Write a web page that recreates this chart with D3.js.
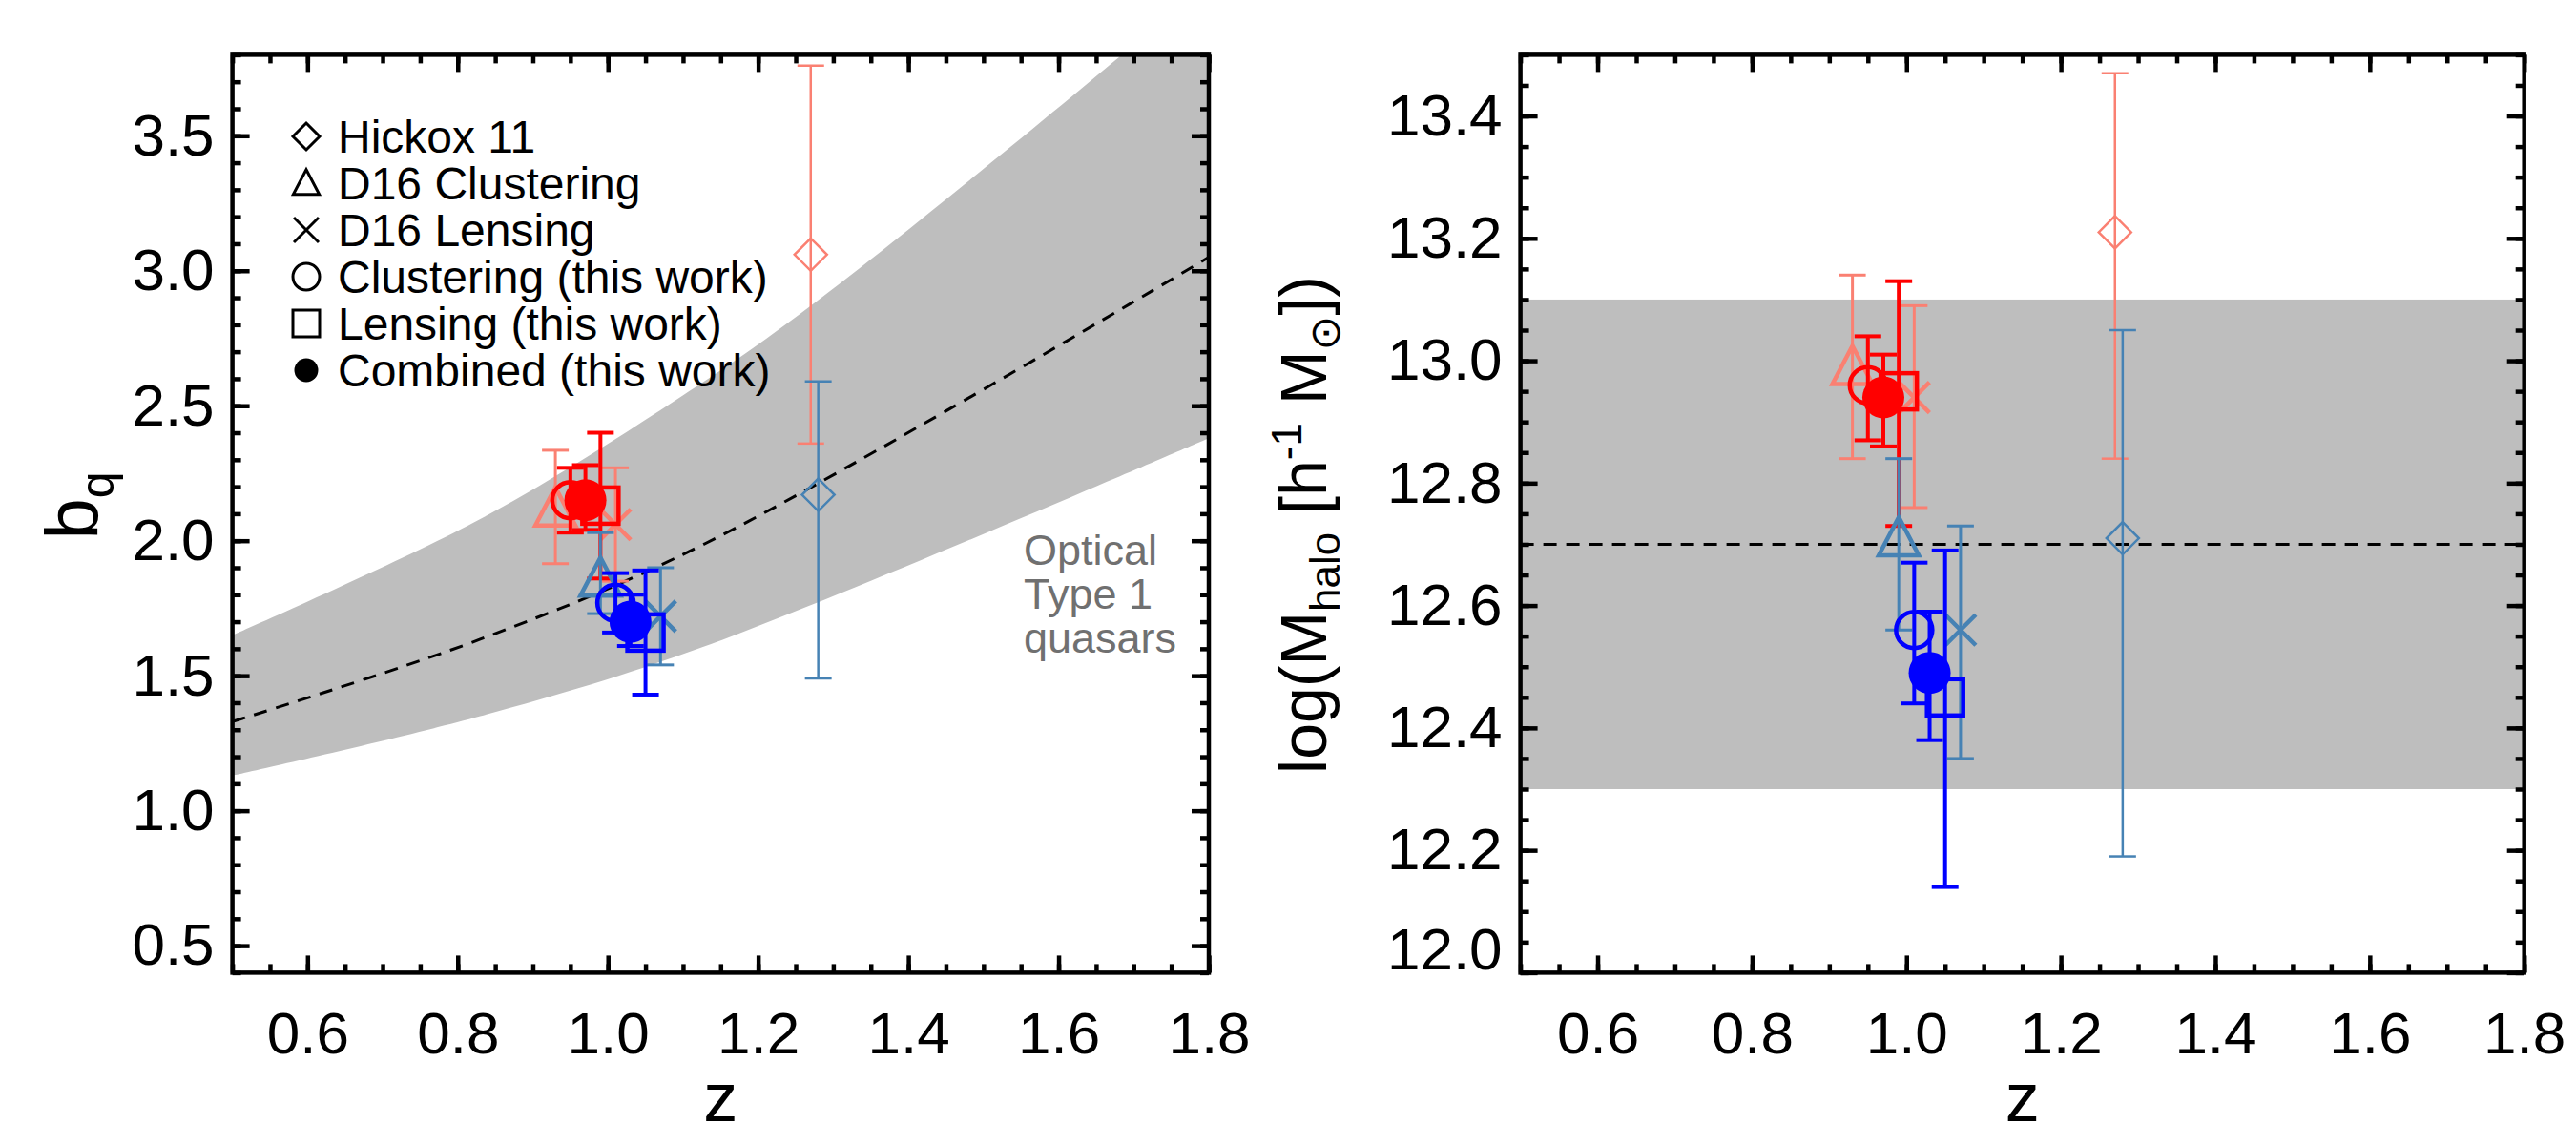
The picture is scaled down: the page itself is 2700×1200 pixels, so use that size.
<!DOCTYPE html>
<html>
<head>
<meta charset="utf-8">
<script src="https://cdnjs.cloudflare.com/ajax/libs/d3/7.8.5/d3.min.js"></script>
<style>
  body { margin: 0; background: #fff; }
  svg { display: block; font-family: "Liberation Sans", Arial, Helvetica, sans-serif; }
</style>
</head>
<body>
<div id="chart-area"></div>
<script>
// order of the estimates in every series array below
let methods = ["Hickox 11", "D16 Clustering", "D16 Lensing", "Clustering (this work)", "Lensing (this work)", "Combined (this work)"];
let symbols = ["diamond", "triangle", "cross", "circle", "square", "dot"];

// redshift of each estimate, red and blue quasar samples
let redZ  = [1.27, 0.93, 1.01, 0.95, 0.99, 0.97];
let blueZ = [1.28, 0.99, 1.07, 1.01, 1.05, 1.03];

// quasar bias b_q with upper / lower error bar ends
let redBias    = [3.06, 2.12, 2.06, 2.15, 2.13, 2.15];
let redBiasHi  = [3.76, 2.335, 2.27, 2.27, 2.40, 2.28];
let redBiasLo  = [2.36, 1.915, 1.85, 2.03, 1.86, 2.04];
let blueBias   = [2.17, 1.86, 1.72, 1.77, 1.66, 1.70];
let blueBiasHi = [2.59, 2.03, 1.90, 1.88, 1.89, 1.80];
let blueBiasLo = [1.49, 1.73, 1.54, 1.66, 1.43, 1.61];

// log halo mass with upper / lower error bar ends
let redMass    = [13.21, 12.99, 12.94, 12.96, 12.95, 12.94];
let redMassHi  = [13.47, 13.14, 13.09, 13.04, 13.13, 13.01];
let redMassLo  = [12.84, 12.84, 12.76, 12.87, 12.73, 12.86];
let blueMass   = [12.71, 12.71, 12.56, 12.56, 12.45, 12.49];
let blueMassHi = [13.05, 12.84, 12.73, 12.67, 12.69, 12.59];
let blueMassLo = [12.19, 12.56, 12.35, 12.44, 12.14, 12.38];

// optical type 1 quasars: bias band and model curve
let bandUpperZ = [0.5, 0.83, 1.09, 1.27, 1.68, 1.8];
let bandUpperB = [1.65, 2.08, 2.52, 2.87, 3.79, 4.08];
let bandLowerZ = [0.5, 0.83, 1.13, 1.8];
let bandLowerB = [1.13, 1.35, 1.61, 2.38];
let modelZ = [0.5, 0.83, 1.13, 1.8];
let modelB = [1.33, 1.635, 1.99, 3.05];
// optical type 1 quasars: halo mass range and typical value
let massBand = [12.3, 13.1];
let massModel = 12.7;

// tick labels
let zTicks = [0.6, 0.8, 1.0, 1.2, 1.4, 1.6, 1.8];
let biasTicks = [0.5, 1.0, 1.5, 2.0, 2.5, 3.0, 3.5];
let massTicks = [12.0, 12.2, 12.4, 12.6, 12.8, 13.0, 13.2, 13.4];

let lightRed = "#fa8072", fullRed = "#ff0000";
let lightBlue = "#4682b4", fullBlue = "#0000ff";

let svg = d3.select("#chart-area")
  .append("svg")
    .attr("width", 2700)
    .attr("height", 1200);

let plotTop = 57.4, plotBottom = 1019.4;
let height = plotBottom - plotTop;

let leftBox = { x0: 243.6, x1: 1267 };
let rightBox = { x0: 1593.6, x1: 2645.7 };

function panel(p, yDomain, yTicks, yMinorStep, clipId) {
  let width = p.x1 - p.x0;
  let g = svg.append("g").attr("transform", `translate(${p.x0}, ${plotTop})`);
  let x = d3.scaleLinear().domain([0.5, 1.8]).range([0, width]);
  let y = d3.scaleLinear().domain(yDomain).range([height, 0]);

  g.append("clipPath").attr("id", clipId)
    .append("rect").attr("width", width).attr("height", height);

  let content = g.append("g").attr("clip-path", `url(#${clipId})`);
  return { g, x, y, width, content, yTicks, yMinorStep, yDomain };
}

function axes(P, labelShift) {
  let { g, x, y, width } = P;
  let fmt = d3.format(".1f");
  let zMinor = d3.range(0.5, 1.8001, 0.05);
  let yMinor = d3.range(P.yDomain[0], P.yDomain[1] + 1e-6, P.yMinorStep)
    .map(v => Math.round(v * 1000) / 1000);

  let style = sel => {
    sel.select(".domain").remove();
    sel.selectAll("line").attr("stroke", "#000").attr("stroke-width", 4.5);
    sel.selectAll("text").attr("font-size", 62).attr("fill", "#000")
      .attr("font-family", "Liberation Sans, Arial, sans-serif");
  };

  // bottom
  g.append("g").attr("transform", `translate(0, ${height})`)
    .call(d3.axisBottom(x).tickValues(zMinor).tickSize(-9).tickFormat("")).call(style);
  g.append("g").attr("transform", `translate(0, ${height})`)
    .call(d3.axisBottom(x).tickValues(zTicks).tickSize(-18).tickPadding(41).tickFormat(fmt)).call(style);
  // top
  g.append("g")
    .call(d3.axisTop(x).tickValues(zMinor).tickSize(-9).tickFormat("")).call(style);
  g.append("g")
    .call(d3.axisTop(x).tickValues(zTicks).tickSize(-18).tickFormat("")).call(style);
  // left
  g.append("g")
    .call(d3.axisLeft(y).tickValues(yMinor).tickSize(-9).tickFormat("")).call(style);
  let yl = g.append("g")
    .call(d3.axisLeft(y).tickValues(P.yTicks).tickSize(-18).tickPadding(19).tickFormat(fmt)).call(style);
  if (labelShift) {
    yl.selectAll(".tick text").filter(d => d === P.yDomain[0]).attr("y", -labelShift);
  }
  // right
  g.append("g").attr("transform", `translate(${width}, 0)`)
    .call(d3.axisRight(y).tickValues(yMinor).tickSize(-9).tickFormat("")).call(style);
  g.append("g").attr("transform", `translate(${width}, 0)`)
    .call(d3.axisRight(y).tickValues(P.yTicks).tickSize(-18).tickFormat("")).call(style);

  g.append("rect")
    .attr("width", width).attr("height", height)
    .attr("fill", "none").attr("stroke", "#000").attr("stroke-width", 4.5);

  g.append("text")
    .attr("x", width / 2)
    .attr("y", 1175 - plotTop)
    .attr("text-anchor", "middle")
    .attr("font-size", 72)
    .text("z");
}

function marker(g, type, cx, cy, color, sw, s) {
  let m = g.append("g").attr("transform", `translate(${cx}, ${cy})`);
  if (type === "diamond") {
    m.append("path").attr("d", `M0,${-s}L${s},0L0,${s}L${-s},0Z`)
      .attr("fill", "none").attr("stroke", color).attr("stroke-width", sw);
  } else if (type === "triangle") {
    m.append("path").attr("d", `M0,${-s * 1.1}L${s * 1.05},${s * 0.9}L${-s * 1.05},${s * 0.9}Z`)
      .attr("fill", "none").attr("stroke", color).attr("stroke-width", sw).attr("stroke-linejoin", "miter");
  } else if (type === "cross") {
    m.append("path").attr("d", `M${-s},${-s}L${s},${s}M${-s},${s}L${s},${-s}`)
      .attr("stroke", color).attr("stroke-width", sw);
  } else if (type === "circle") {
    m.append("circle").attr("r", s)
      .attr("fill", "none").attr("stroke", color).attr("stroke-width", sw);
  } else if (type === "square") {
    m.append("rect").attr("x", -s).attr("y", -s).attr("width", 2 * s).attr("height", 2 * s)
      .attr("fill", "none").attr("stroke", color).attr("stroke-width", sw);
  } else {
    m.append("circle").attr("r", s).attr("fill", color);
  }
}

// per-method drawing style: marker size, marker stroke, error bar stroke
let markerSize = [17, 20, 16, 19, 19, 22];
let markerStroke = [2.5, 4.5, 4.5, 4.5, 4.5, 0];
let barStroke = [2.5, 3, 3, 4, 4, 4];

function points(P, zs, vals, his, los, light, full, order) {
  let { content, x, y } = P;
  order.forEach(i => {
    let color = i < 3 ? light : full;
    let cx = x(zs[i]);
    let eg = content.append("g").attr("stroke", color).attr("stroke-width", barStroke[i]);
    eg.append("line").attr("x1", cx).attr("x2", cx).attr("y1", y(his[i])).attr("y2", y(los[i]));
    eg.append("line").attr("x1", cx - 14).attr("x2", cx + 14).attr("y1", y(his[i])).attr("y2", y(his[i]));
    eg.append("line").attr("x1", cx - 14).attr("x2", cx + 14).attr("y1", y(los[i])).attr("y2", y(los[i]));
    marker(content, symbols[i], cx, y(vals[i]), color, markerStroke[i], markerSize[i]);
  });
}

let drawOrder = [0, 1, 2, 3, 4, 5];

// ---------- left panel: bias ----------
let L = panel(leftBox, [0.4, 3.8], biasTicks, 0.1, "clipL");

let curve = d3.line().x(d => L.x(d[0])).y(d => L.y(d[1])).curve(d3.curveCatmullRom.alpha(0.5));
let upperPts = bandUpperZ.map((z, i) => [z, bandUpperB[i]]);
let lowerPts = bandLowerZ.map((z, i) => [z, bandLowerB[i]]).reverse();
let bandPath = curve(upperPts) + "L" + curve(lowerPts).slice(1) + "Z";
L.content.append("path").attr("d", bandPath).attr("fill", "#bebebe");

L.content.append("path")
  .attr("d", curve(modelZ.map((z, i) => [z, modelB[i]])))
  .attr("fill", "none").attr("stroke", "#000").attr("stroke-width", 3)
  .attr("stroke-dasharray", "14,10");

let optical = L.g.append("text").attr("fill", "#707070").attr("font-size", 45);
[["Optical", 592], ["Type 1", 638], ["quasars", 684]].forEach(r => {
  optical.append("tspan").attr("x", 1073 - leftBox.x0).attr("y", r[1] - plotTop).text(r[0]);
});

points(L, redZ, redBias, redBiasHi, redBiasLo, lightRed, fullRed, drawOrder);
points(L, blueZ, blueBias, blueBiasHi, blueBiasLo, lightBlue, fullBlue, drawOrder);

// legend
let legendSize = [14, 13, 13, 14, 14, 12.5];
methods.forEach((name, i) => {
  let base = 160 + i * 49 - plotTop;
  marker(L.g, symbols[i], 321 - leftBox.x0, base - 17, "#000", 3, legendSize[i]);
  L.g.append("text")
    .attr("x", 354 - leftBox.x0)
    .attr("y", base)
    .attr("font-size", 48)
    .text(name);
});

axes(L, 0);

let bq = svg.append("text")
  .attr("transform", "translate(103, 530) rotate(-90)")
  .attr("text-anchor", "middle")
  .attr("font-size", 78);
bq.append("tspan").text("b");
bq.append("tspan").attr("font-size", 50).attr("dy", 16).text("q");

// ---------- right panel: halo mass ----------
let R = panel(rightBox, [12.0, 13.5], massTicks, 0.05, "clipR");

R.content.append("rect")
  .attr("x", 0).attr("width", R.width)
  .attr("y", R.y(massBand[1]))
  .attr("height", R.y(massBand[0]) - R.y(massBand[1]))
  .attr("fill", "#bebebe");

R.content.append("line")
  .attr("x1", 0).attr("x2", R.width)
  .attr("y1", R.y(massModel)).attr("y2", R.y(massModel))
  .attr("stroke", "#000").attr("stroke-width", 3)
  .attr("stroke-dasharray", "14,10");

points(R, redZ, redMass, redMassHi, redMassLo, lightRed, fullRed, drawOrder);
points(R, blueZ, blueMass, blueMassHi, blueMassLo, lightBlue, fullBlue, drawOrder);

axes(R, 24);

let ml = svg.append("text")
  .attr("transform", "translate(1390, 550) rotate(-90)")
  .attr("text-anchor", "middle")
  .attr("font-size", 68);
ml.append("tspan").text("log(M");
ml.append("tspan").attr("font-size", 44).attr("dy", 14).text("halo");
ml.append("tspan").attr("dy", -14).text(" [h");
ml.append("tspan").attr("font-size", 44).attr("dy", -26).text("-1");
ml.append("tspan").attr("dy", 26).text(" M");
ml.append("tspan").attr("font-size", 44).attr("dy", 14).attr("font-family", "DejaVu Sans").text("\u2299");
ml.append("tspan").attr("dy", -14).text("])");
</script>
</body>
</html>
